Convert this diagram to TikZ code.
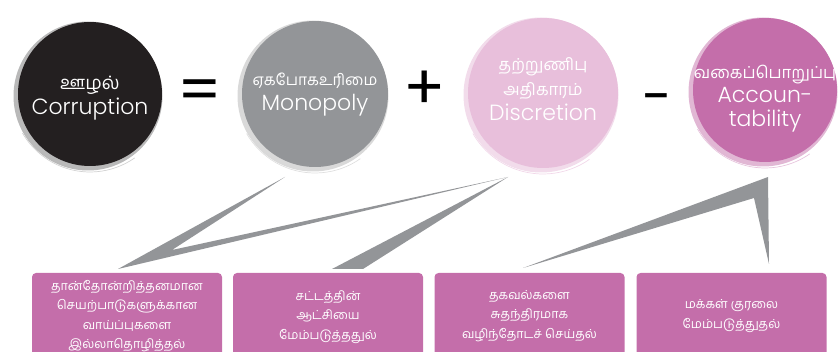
\documentclass[tikz,border=0pt]{standalone}
\usepackage{fontspec}
\setmainfont{Poppins Light}
\newfontfamily\opfont{Poppins}
\newfontfamily\ta[Script=Tamil]{Hind Madurai}
\definecolor{cblack}{HTML}{231F20}
\definecolor{cgrey}{HTML}{939598}
\definecolor{cpink}{HTML}{E8BFDB}
\definecolor{cmag}{HTML}{C46EAA}
\definecolor{boxc}{HTML}{C46EAA}
\definecolor{wedge}{HTML}{939598}
\begin{document}
\begin{tikzpicture}[x=1pt,y=-1pt,
  bigcirc/.style={circle,inner sep=0pt},
  ctext/.style={text=white,align=center,inner sep=0pt,font=\fontsize{22}{25}\selectfont},
  infobox/.style={fill=boxc,rounded corners=4pt,minimum width=190pt,minimum height=88pt,inner sep=0pt},
  btext/.style={text=white,align=center,font=\ta\fontsize{12.5}{19.5}\selectfont},
  op/.style={font=\opfont\fontsize{62}{62}\selectfont,text=black,inner sep=0pt}]
\useasboundingbox (0,0) rectangle (838,352);
% wedges
\coordinate (wa1) at (285,177); \coordinate (wa2) at (118,269);
\coordinate (wa3) at (508,177); \coordinate (wa4) at (172,250);
\fill[wedge] (wa1) -- (wa2) -- (wa3) -- (wa4) -- cycle;
\coordinate (wb1) at (332,269); \coordinate (wb2) at (363,269);
\fill[wedge] (wa3) -- (wb1) -- (wb2) -- cycle;
\coordinate (wc1) at (523,268); \coordinate (wc2) at (768,177);
\coordinate (wc3) at (769,264); \coordinate (wc4) at (754,198);
\fill[wedge] (wc1) -- (wc2) -- (wc3) -- (wc4) -- cycle;
% circles with brush rings
\fill[gray!55] (88,96) circle (74.5);
\draw[gray!35,line width=0.7pt] (90,94) ++(55:78) arc (55:150:78);
\node[bigcirc,fill=cblack,minimum size=144pt] (c1) at (90,94) {};
\fill[gray!30] (313,96) circle (75.5);
\draw[gray!25,line width=0.7pt] (315,94) ++(55:79) arc (55:150:79);
\node[bigcirc,fill=cgrey,minimum size=146pt] (c2) at (315,94) {};
\fill[cpink!55] (541,95) circle (77.5);
\draw[cpink!60,line width=0.7pt] (543,93) ++(55:81) arc (55:150:81);
\node[bigcirc,fill=cpink,minimum size=150pt] (c3) at (543,93) {};
\fill[cmag!50] (763,92) circle (74.5);
\draw[cmag!40,line width=0.7pt] (765,90) ++(55:78) arc (55:150:78);
\node[bigcirc,fill=cmag,minimum size=144pt] (c4) at (765,90) {};
% circle texts
\node[ctext] (t1) at (90,98) {{\ta\fontsize{18.5}{18}\selectfont ஊழல்}\\Corruption};
\node[ctext] (t2) at (315,95) {{\ta\fontsize{15.5}{18}\selectfont ஏகபோகஉரிமை}\\Monopoly};
\node[ctext] (t3) at (543,89) {{\ta\fontsize{16.5}{18}\selectfont தற்றுணிபு}\\{\ta\fontsize{16.5}{18}\selectfont அதிகாரம்}\\Discretion};
\node[ctext,font=\fontsize{22}{24}\selectfont] (t4) at (765,99) {{\ta\fontsize{16.5}{16}\selectfont வகைப்பொறுப்பு}\\Accoun-\\tability};
% operators
\node[op] (eq) at (200,96) {=};
\node[op] (plus) at (425,90) {+};
\node[op,font=\opfont\fontsize{54}{54}\selectfont] (minus) at (657,105) {-};
% boxes
\node[infobox] (b1) at (127,317) {};
\node[infobox] (b2) at (328,317) {};
\node[infobox] (b3) at (529.5,317) {};
\node[infobox] (b4) at (731.5,317) {};
\node[btext] (bt1) at (127,316) {தான்தோன்றித்தனமான\\செயற்பாடுகளுக்கான\\வாய்ப்புகளை\\இல்லாதொழித்தல்};
\node[btext] (bt2) at (328,317) {சட்டத்தின்\\ஆட்சியை\\மேம்படுத்ததுல்};
\node[btext] (bt3) at (529.5,316) {தகவல்களை\\சுதந்திரமாக\\வழிந்தோடச் செய்தல்};
\node[btext] (bt4) at (731.5,316) {மக்கள் குரலை\\மேம்படுத்துதல்};
\end{tikzpicture}
\end{document}
